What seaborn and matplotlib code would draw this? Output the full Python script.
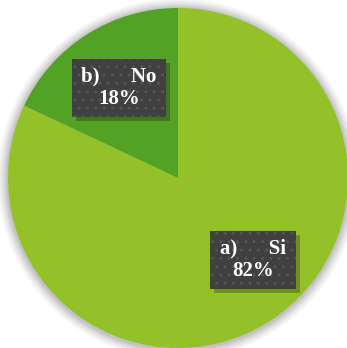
import matplotlib
matplotlib.use("Agg")
import matplotlib.pyplot as plt
from matplotlib.patches import Circle, Rectangle
import seaborn as sns

# Survey answers
categories = ["a)      Si", "b)      No"]
shares = [82, 18]
colors = ["#93C128", "#53A125"]

sns.set_theme(style="white")
plt.rcParams["font.family"] = ["Liberation Serif", "DejaVu Serif"]

W, H = 347, 348
fig = plt.figure(figsize=(W / 100, H / 100), dpi=100)
ax = fig.add_axes([0, 0, 1, 1])

cx, cy, r = 178, H - 178, 170

# soft drop shadow under the pie
for i, a in enumerate([0.04, 0.04, 0.05, 0.06, 0.07]):
    ax.add_patch(Circle((cx, cy - 1), r + 10 - 2 * i, color="#000000",
                        alpha=a, lw=0, zorder=0))

wedges, _ = ax.pie(shares, colors=colors, startangle=90, counterclock=False,
                   center=(cx, cy), radius=r, frame=True,
                   wedgeprops=dict(linewidth=0))
ax.set_xlim(0, W)
ax.set_ylim(0, H)
ax.set_aspect("equal")
ax.axis("off")

# label boxes (x0, y_top, width, height) in pixel space
boxes = [(210, 231, 86, 58), (72, 59, 94, 58)]
for (lab, val), (x0, yt, bw, bh) in zip(zip(categories, shares), boxes):
    y0 = H - yt - bh
    ax.add_patch(Rectangle((x0 + 4, y0 - 4), bw, bh, color="#000000",
                           alpha=0.25, lw=0, zorder=3))
    ax.add_patch(Rectangle((x0, y0), bw, bh, facecolor="#404040",
                           edgecolor="#545454", hatch="..", lw=0, zorder=4))
    ax.text(x0 + bw / 2, y0 + bh / 2, f"{lab}\n{val}%", ha="center",
            va="center", color="white", fontsize=15, fontweight="bold",
            linespacing=1.15, zorder=5)

fig.savefig("out.png", dpi=100)
